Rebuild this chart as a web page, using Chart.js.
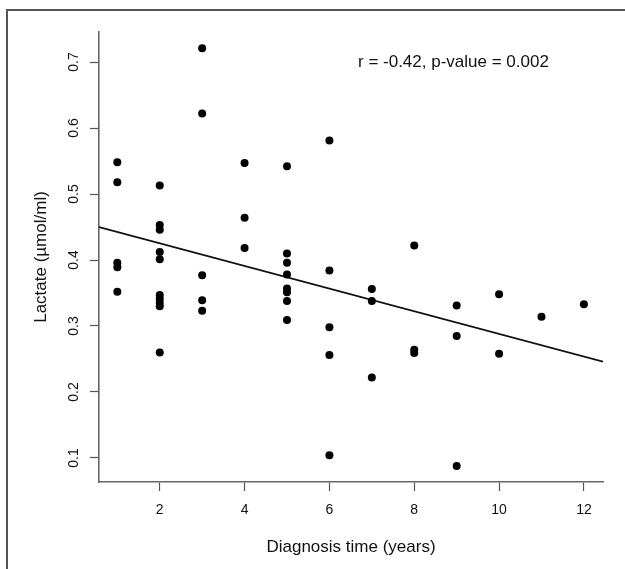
<!DOCTYPE html>
<html>
<head>
<meta charset="utf-8">
<script src="https://cdn.jsdelivr.net/npm/chart.js@4"></script>
<style>
  html, body { margin: 0; padding: 0; background: #fff; }
  #wrap { width: 625px; height: 569px; }
</style>
</head>
<body>
<div id="wrap"><canvas id="myChart" width="625" height="569"></canvas></div>
<script>
// diagnosis time (years) and lactate for each patient
const diagnosisYears = [
  1, 1, 1, 1, 1,
  2, 2, 2, 2, 2, 2, 2, 2, 2, 2,
  3, 3, 3, 3, 3,
  4, 4, 4,
  5, 5, 5, 5, 5, 5, 5, 5,
  6, 6, 6, 6, 6,
  7, 7, 7,
  8, 8, 8,
  9, 9, 9,
  10, 10,
  11,
  12
];
const lactate = [
  0.548, 0.518, 0.396, 0.389, 0.352,
  0.513, 0.453, 0.446, 0.412, 0.401, 0.347, 0.341, 0.335, 0.330, 0.260,
  0.721, 0.622, 0.377, 0.339, 0.323,
  0.547, 0.464, 0.418,
  0.542, 0.410, 0.396, 0.378, 0.357, 0.351, 0.338, 0.309,
  0.581, 0.384, 0.298, 0.256, 0.104,
  0.356, 0.338, 0.222,
  0.422, 0.264, 0.259,
  0.331, 0.285, 0.088,
  0.348, 0.258,
  0.314,
  0.333
];
// fitted line ends
const fitX = [0.57, 12.45];
const fitY = [0.450, 0.246];

const xTicks = [2, 4, 6, 8, 10, 12];
const yTicks = [0.1, 0.2, 0.3, 0.4, 0.5, 0.6, 0.7];
const statsText = 'r = -0.42, p-value = 0.002';

const FONT = "'Liberation Sans', Arial, sans-serif";

const points = diagnosisYears.map((x, i) => ({x: x, y: lactate[i]}));
const fitLine = fitX.map((x, i) => ({x: x, y: fitY[i]}));

// page frame + stats text
const decor = {
  id: 'decor',
  afterDraw(chart) {
    const ctx = chart.ctx;
    ctx.save();
    ctx.strokeStyle = '#555';
    ctx.lineWidth = 2;
    ctx.beginPath();
    ctx.moveTo(7, 569);
    ctx.lineTo(7, 10);
    ctx.lineTo(625, 10);
    ctx.stroke();
    ctx.fillStyle = '#111';
    ctx.font = '17px ' + FONT;
    ctx.textBaseline = 'middle';
    ctx.textAlign = 'left';
    ctx.fillText(statsText, 358, 62);
    ctx.restore();
  }
};

new Chart(document.getElementById('myChart'), {
  type: 'scatter',
  data: {
    datasets: [
      {
        data: points,
        backgroundColor: '#000',
        borderColor: '#000',
        pointRadius: 4,
        pointHoverRadius: 4,
        borderWidth: 0
      },
      {
        type: 'line',
        data: fitLine,
        borderColor: '#111',
        borderWidth: 1.8,
        pointRadius: 0,
        fill: false
      }
    ]
  },
  options: {
    responsive: false,
    animation: false,
    events: [],
    layout: { padding: { top: 32, right: 22, left: 0, bottom: 0 } },
    plugins: { legend: { display: false }, tooltip: { enabled: false } },
    scales: {
      x: {
        type: 'linear',
        min: 0.568,
        max: 12.45,
        afterBuildTicks: s => { s.ticks = xTicks.map(v => ({value: v})); },
        afterFit: s => { s.height = 87; },
        grid: { display: true, drawOnChartArea: false, drawTicks: true, tickLength: 9, color: '#555', tickWidth: 1.2 },
        border: { display: true, color: '#666', width: 1.6 },
        ticks: { color: '#111', font: { family: FONT, size: 14 }, padding: 11, maxRotation: 0 },
        title: { display: true, text: 'Diagnosis time (years)', color: '#111', font: { family: FONT, size: 17 }, padding: { bottom: 11, top: 0 } }
      },
      y: {
        type: 'linear',
        min: 0.0636,
        max: 0.7455,
        afterBuildTicks: s => { s.ticks = yTicks.map(v => ({value: v})); },
        afterFit: s => { s.width = 99; },
        grid: { display: true, drawOnChartArea: false, drawTicks: true, tickLength: 9, color: '#555', tickWidth: 1.2 },
        border: { display: true, color: '#666', width: 1.6 },
        ticks: {
          color: '#111', font: { family: FONT, size: 14 }, padding: 6,
          minRotation: 90, maxRotation: 90, crossAlign: 'center',
          callback: v => v.toFixed(1)
        },
        title: { display: true, text: 'Lactate (\u00b5mol/ml)', color: '#111', font: { family: FONT, size: 17 }, padding: { top: 31, bottom: 0 } }
      }
    }
  },
  plugins: [decor]
});
</script>
</body>
</html>
